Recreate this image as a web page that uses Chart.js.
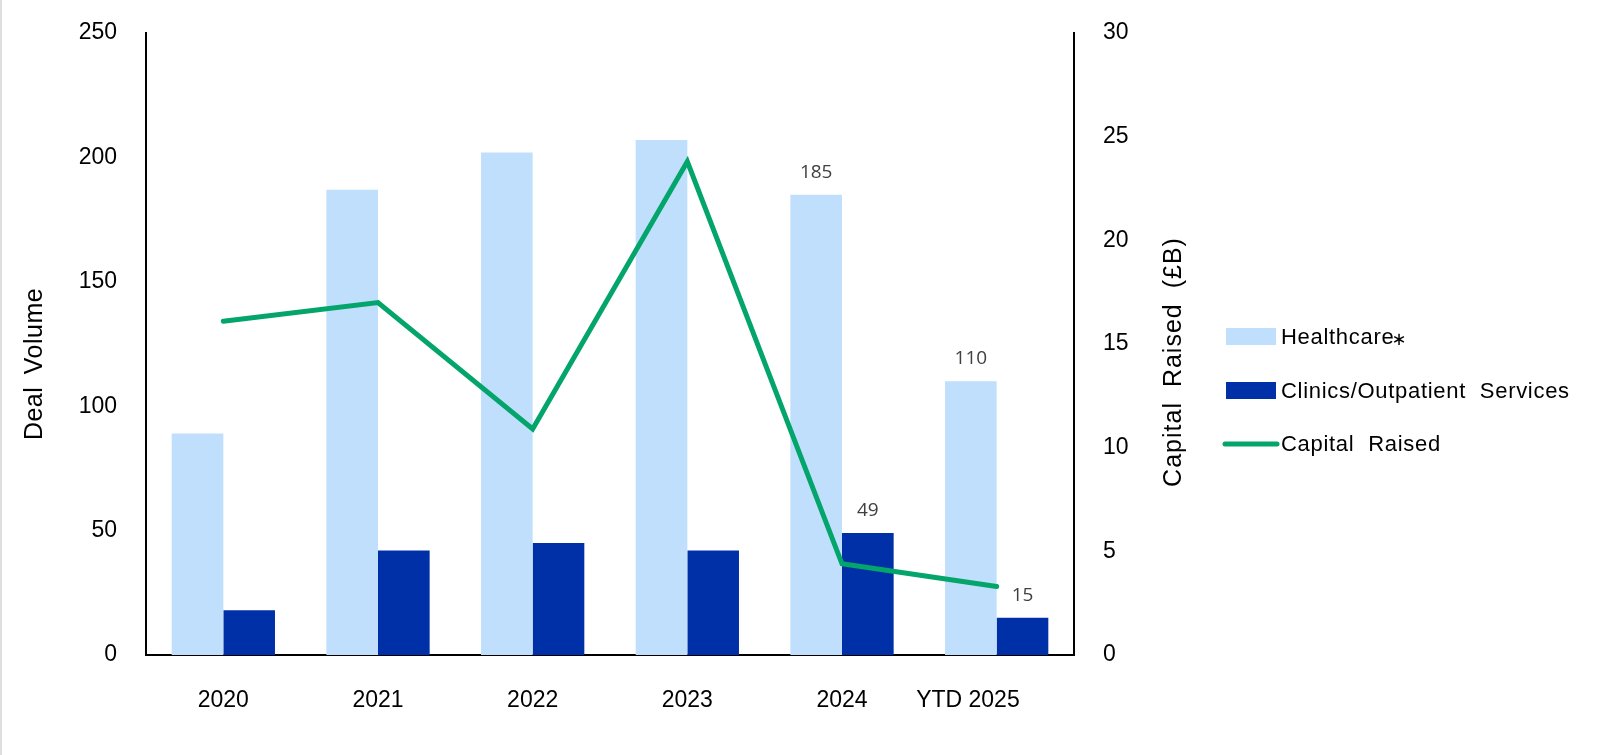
<!DOCTYPE html>
<html>
<head>
<meta charset="utf-8">
<script src="https://cdn.jsdelivr.net/npm/chart.js@4/dist/chart.umd.min.js"></script>
<style>
  html, body { margin: 0; padding: 0; background: #ffffff; }
  #wrap { position: relative; width: 1600px; height: 755px; }
  #edge { position: absolute; left: 0; top: 0; width: 2px; height: 755px; background: #dedede; }
  canvas { display: block; }
</style>
</head>
<body>
<div id="wrap">
  <canvas id="c" width="1600" height="755"></canvas>
  <div id="edge"></div>
</div>
<script>
// ---- data ----
const categories = ['2020', '2021', '2022', '2023', '2024', 'YTD 2025'];
const healthcareDeals = [89, 187, 202, 207, 185, 110];
const clinicsDeals = [18, 42, 45, 42, 49, 15];
const capitalRaised = [16.1, 17.0, 10.9, 23.8, 4.4, 3.3];
const labelledCategories = ['2024', 'YTD 2025'];
const leftTicks = [0, 50, 100, 150, 200, 250];
const rightTicks = [0, 5, 10, 15, 20, 25, 30];
const seriesNames = ['Healthcare\u2217', 'Clinics/Outpatient Services', 'Capital Raised'];
const axisTitles = ['Deal Volume', 'Capital Raised (\u00a3B)'];

const FONT = '"Liberation Sans", Arial, sans-serif';
const C_LIGHT = '#BFDFFD';
const C_DARK = '#0030A8';
const C_GREEN = '#03A56B';

const barLabelsPlugin = {
  id: 'barLabels',
  afterDatasetsDraw(chart) {
    const ctx = chart.ctx;
    ctx.save();
    ctx.font = '19px "Open Sans", "Liberation Sans", sans-serif';
    ctx.fillStyle = '#404040';
    ctx.textAlign = 'center';
    ctx.textBaseline = 'alphabetic';
    chart.data.datasets.forEach((ds, di) => {
      if (ds.type !== 'bar') return;
      const meta = chart.getDatasetMeta(di);
      meta.data.forEach((el, i) => {
        if (!labelledCategories.includes(categories[i])) return;
        ctx.fillText(String(ds.data[i]), el.x, el.y - 17);
      });
    });
    ctx.restore();
  }
};

const titlesPlugin = {
  id: 'axisTitlesCustom',
  afterDraw(chart) {
    const ctx = chart.ctx;
    ctx.save();
    ctx.fillStyle = '#000';
    ctx.textAlign = 'center';
    ctx.textBaseline = 'middle';
    ctx.font = '25px ' + FONT;
    ctx.save();
    ctx.translate(35, 364);
    ctx.rotate(-Math.PI / 2);
    try { ctx.letterSpacing = '0.5px'; ctx.wordSpacing = '5px'; } catch (e) {}
    ctx.fillText(axisTitles[0], 0, 0);
    ctx.restore();
    ctx.save();
    ctx.translate(1174, 362);
    ctx.rotate(-Math.PI / 2);
    try { ctx.letterSpacing = '1px'; ctx.wordSpacing = '7px'; } catch (e) {}
    ctx.fillText(axisTitles[1], 0, 0);
    ctx.restore();
    ctx.restore();
  }
};

const legendPlugin = {
  id: 'legendCustom',
  afterDraw(chart) {
    const ctx = chart.ctx;
    const x0 = 1226, rows = [337, 391, 444];
    ctx.save();
    ctx.textBaseline = 'middle';
    ctx.textAlign = 'left';
    chart.data.datasets.forEach((ds, i) => {
      const y = rows[i];
      if (ds.type === 'bar') {
        ctx.fillStyle = ds.backgroundColor;
        ctx.fillRect(x0, y - 9, 50, 17);
      } else {
        ctx.strokeStyle = ds.borderColor;
        ctx.lineWidth = 5;
        ctx.lineCap = 'round';
        ctx.beginPath();
        ctx.moveTo(x0 - 1, y);
        ctx.lineTo(x0 + 51, y);
        ctx.stroke();
      }
      ctx.fillStyle = '#000';
      ctx.font = '22px ' + FONT;
      try { ctx.letterSpacing = '0.7px'; ctx.wordSpacing = '7px'; } catch (e) {}
      let text = ds.label, star = '';
      if (text.endsWith('\u2217')) { star = '\u2217'; text = text.slice(0, -1); }
      ctx.fillText(text, 1281, y + 1);
      if (star) {
        const w = ctx.measureText(text).width;
        ctx.font = '18px "DejaVu Sans", sans-serif';
        try { ctx.letterSpacing = '0px'; } catch (e) {}
        ctx.fillText(star, 1281 + w - 3, y + 3);
      }
    });
    ctx.restore();
  }
};

function noVerticalPad(s) { s.paddingTop = 0; s.paddingBottom = 0; }

new Chart(document.getElementById('c'), {
  data: {
    labels: categories,
    datasets: [
      { type: 'bar', label: seriesNames[0], data: healthcareDeals, backgroundColor: C_LIGHT,
        yAxisID: 'y', order: 1, categoryPercentage: 0.668, barPercentage: 1.0 },
      { type: 'bar', label: seriesNames[1], data: clinicsDeals, backgroundColor: C_DARK,
        yAxisID: 'y', order: 2, categoryPercentage: 0.668, barPercentage: 1.0 },
      { type: 'line', label: seriesNames[2], data: capitalRaised, borderColor: C_GREEN,
        backgroundColor: C_GREEN, borderWidth: 5, pointRadius: 0, tension: 0,
        borderCapStyle: 'round', yAxisID: 'y1', order: 0 }
    ]
  },
  options: {
    responsive: false,
    animation: false,
    devicePixelRatio: 1,
    layout: { padding: { left: 0, right: 0, top: 33, bottom: 0 } },
    plugins: { legend: { display: false }, tooltip: { enabled: false } },
    scales: {
      x: {
        offset: true,
        grid: { display: false, drawTicks: false },
        border: { display: true, color: '#000', width: 2 },
        ticks: {
          color: '#000', font: { family: FONT, size: 23 }, padding: 32, maxRotation: 0,
          autoSkip: false,
          callback(v, i) { const t = categories[i]; return t.length > 4 ? t + '\u00a0'.repeat(9) : t; }
        },
        afterFit(s) { s.height = 100; s.paddingLeft = 0; s.paddingRight = 0; }
      },
      y: {
        position: 'left',
        min: 0, max: 250,
        grid: { display: false, drawTicks: false },
        border: { display: true, color: '#000', width: 2 },
        afterBuildTicks(s) { s.ticks = leftTicks.map(v => ({ value: v })); },
        ticks: { color: '#000', font: { family: FONT, size: 23 }, padding: 29 },
        afterFit(s) { s.width = 146; noVerticalPad(s); }
      },
      y1: {
        position: 'right',
        min: 0, max: 30,
        grid: { display: false, drawTicks: false },
        border: { display: true, color: '#000', width: 2 },
        afterBuildTicks(s) { s.ticks = rightTicks.map(v => ({ value: v })); },
        ticks: { color: '#000', font: { family: FONT, size: 23 }, padding: 29 },
        afterFit(s) { s.width = 1600 - 1074; noVerticalPad(s); }
      }
    }
  },
  plugins: [barLabelsPlugin, titlesPlugin, legendPlugin]
});
</script>
</body>
</html>
